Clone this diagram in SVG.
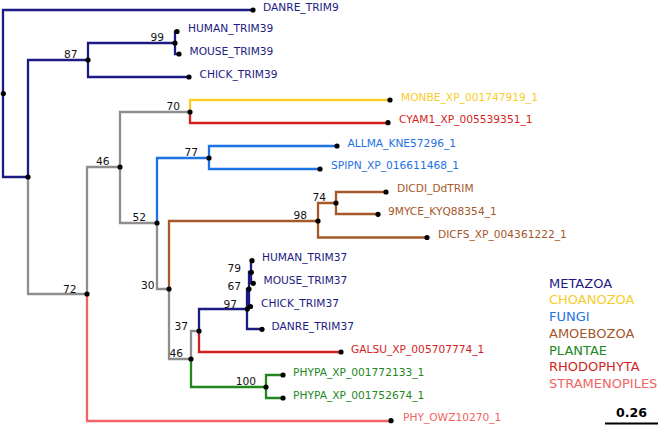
<svg xmlns="http://www.w3.org/2000/svg" width="661" height="426" viewBox="0 0 661 426">
<style>
.e{fill:none;stroke-width:2.3;stroke-linecap:square;stroke-linejoin:miter}
.nv{stroke:#1b1b82}.gy{stroke:#8e8e8e}.yl{stroke:#f8cc2a}.rd{stroke:#d41f1f}.bl{stroke:#1d72e4}.br{stroke:#a5582a}.gr{stroke:#22881e}.pk{stroke:#f26464}
.d{fill:#000}
text{font-family:"DejaVu Sans","Liberation Sans",sans-serif;font-size:10.65px}
.s{fill:#111;text-anchor:end}
.tnv{fill:#1b1b82}.tyl{fill:#f8cc2a}.trd{fill:#d41f1f}.tbl{fill:#1d72e4}.tbr{fill:#a5582a}.tgr{fill:#22881e}.tpk{fill:#f26464}
.lg{font-size:13px}
</style>
<rect width="661" height="426" fill="#fff"/>
<g id="connectors">
<path class="e nv" d="M253,10 H3 V177 H28"/>
<path class="e nv" d="M28,177 V60 H88"/>
<path class="e nv" d="M88,60 V43 H175"/>
<path class="e nv" d="M88,60 V77 H189"/>
<path class="e nv" d="M177,31.5 H175 V54 H179"/>
<path class="e gy" d="M28,177 V294 H87"/>
<path class="e gy" d="M87,294 V167 H120"/>
<path class="e gy" d="M120,167 V112 H190"/>
<path class="e gy" d="M120,167 V223 H157"/>
<path class="e gy" d="M157,223 V289 H169"/>
<path class="e gy" d="M169,289 V359 H191"/>
<path class="e gy" d="M191,359 V331 H199"/>
<path class="e pk" d="M87,294 V421 H391"/>
<path class="e yl" d="M190,112 V100 H390"/>
<path class="e rd" d="M190,112 V123 H388"/>
<path class="e rd" d="M199,331 V352 H341"/>
<path class="e bl" d="M157,223 V158 H209"/>
<path class="e bl" d="M209,158 V146 H337"/>
<path class="e bl" d="M209,158 V169 H320"/>
<path class="e br" d="M169,289 V221 H318"/>
<path class="e br" d="M318,221 V203 H336"/>
<path class="e br" d="M336,203 V192 H386"/>
<path class="e br" d="M336,203 V214 H378"/>
<path class="e br" d="M318,221 V237.5 H427"/>
<path class="e gr" d="M191,359 V387 H266"/>
<path class="e gr" d="M266,387 V375 H283"/>
<path class="e gr" d="M266,387 V398 H283"/>
<path class="e nv" d="M199,331 V309 H247"/>
<path class="e nv" d="M247,309 V289 H249"/>
<path class="e nv" d="M247,309 V329 H262"/>
<path class="e nv" d="M249,289 V272 H251"/>
<path class="e nv" d="M249,289 V306.5 H250"/>
<path class="e nv" d="M251,272 V261 H252"/>
<path class="e nv" d="M251,272 V283 H253"/>
</g>
<g id="root"><circle class="d" cx="3.3" cy="93.5" r="2.6"/></g>
<g id="nA"><circle class="d" cx="28" cy="177" r="2.6"/></g>
<g id="n87"><circle class="d" cx="88" cy="60" r="2.6"/><text class="s" x="77.5" y="58">87</text></g>
<g id="n99"><circle class="d" cx="175" cy="43" r="2.6"/><text class="s" x="164" y="41">99</text></g>
<g id="n72"><circle class="d" cx="87" cy="294" r="2.6"/><text class="s" x="76.5" y="292.5">72</text></g>
<g id="n46a"><circle class="d" cx="120" cy="167" r="2.6"/><text class="s" x="109.5" y="165">46</text></g>
<g id="n70"><circle class="d" cx="190" cy="112" r="2.6"/><text class="s" x="180" y="110">70</text></g>
<g id="n52"><circle class="d" cx="157" cy="223" r="2.6"/><text class="s" x="146" y="221">52</text></g>
<g id="n77"><circle class="d" cx="209" cy="158" r="2.6"/><text class="s" x="198" y="156">77</text></g>
<g id="n30"><circle class="d" cx="169" cy="289" r="2.6"/><text class="s" x="154.5" y="289">30</text></g>
<g id="n98"><circle class="d" cx="318" cy="221" r="2.6"/><text class="s" x="307" y="218.5">98</text></g>
<g id="n74"><circle class="d" cx="336" cy="203" r="2.6"/><text class="s" x="326" y="201">74</text></g>
<g id="n46b"><circle class="d" cx="191" cy="359" r="2.6"/><text class="s" x="183" y="357">46</text></g>
<g id="n37"><circle class="d" cx="199" cy="331" r="2.6"/><text class="s" x="188" y="330">37</text></g>
<g id="n100"><circle class="d" cx="266" cy="387" r="2.6"/><text class="s" x="256" y="385">100</text></g>
<g id="n97"><circle class="d" cx="247.3" cy="309" r="2.6"/><text class="s" x="237" y="308">97</text></g>
<g id="n67"><circle class="d" cx="249" cy="289" r="2.6"/><text class="s" x="241" y="289.5">67</text></g>
<g id="n79"><circle class="d" cx="251.3" cy="272.3" r="2.6"/><text class="s" x="241" y="272">79</text></g>
<g id="DANRE_TRIM9"><circle class="d" cx="253" cy="10" r="2.6"/><text class="tnv" x="263" y="10.8">DANRE_TRIM9</text></g>
<g id="HUMAN_TRIM39"><circle class="d" cx="177" cy="31.5" r="2.6"/><text class="tnv" x="188" y="32">HUMAN_TRIM39</text></g>
<g id="MOUSE_TRIM39"><circle class="d" cx="179" cy="54" r="2.6"/><text class="tnv" x="189.5" y="55">MOUSE_TRIM39</text></g>
<g id="CHICK_TRIM39"><circle class="d" cx="189" cy="77" r="2.6"/><text class="tnv" x="199.5" y="77.5">CHICK_TRIM39</text></g>
<g id="MONBE"><circle class="d" cx="390" cy="100" r="2.6"/><text class="tyl" x="401" y="100.5">MONBE_XP_001747919_1</text></g>
<g id="CYAM1"><circle class="d" cx="388" cy="122.7" r="2.6"/><text class="trd" x="399" y="123">CYAM1_XP_005539351_1</text></g>
<g id="ALLMA"><circle class="d" cx="337" cy="146" r="2.6"/><text class="tbl" x="347.5" y="146.5">ALLMA_KNE57296_1</text></g>
<g id="SPIPN"><circle class="d" cx="320" cy="169" r="2.6"/><text class="tbl" x="331" y="169">SPIPN_XP_016611468_1</text></g>
<g id="DICDI"><circle class="d" cx="386" cy="192" r="2.6"/><text class="tbr" x="397" y="192">DICDI_DdTRIM</text></g>
<g id="9MYCE"><circle class="d" cx="378" cy="214.3" r="2.6"/><text class="tbr" x="388" y="214.5">9MYCE_KYQ88354_1</text></g>
<g id="DICFS"><circle class="d" cx="427" cy="237.5" r="2.6"/><text class="tbr" x="438" y="238">DICFS_XP_004361222_1</text></g>
<g id="HUMAN_TRIM37"><circle class="d" cx="252" cy="260.7" r="2.6"/><text class="tnv" x="262" y="261">HUMAN_TRIM37</text></g>
<g id="MOUSE_TRIM37"><circle class="d" cx="253.3" cy="283.3" r="2.6"/><text class="tnv" x="263.5" y="284">MOUSE_TRIM37</text></g>
<g id="CHICK_TRIM37"><circle class="d" cx="250.5" cy="306.5" r="2.6"/><text class="tnv" x="261" y="306.5">CHICK_TRIM37</text></g>
<g id="DANRE_TRIM37"><circle class="d" cx="262" cy="329.3" r="2.6"/><text class="tnv" x="271.5" y="330">DANRE_TRIM37</text></g>
<g id="GALSU"><circle class="d" cx="341" cy="352" r="2.6"/><text class="trd" x="351" y="352.5">GALSU_XP_005707774_1</text></g>
<g id="PHYPA1"><circle class="d" cx="283" cy="375" r="2.6"/><text class="tgr" x="293" y="375.5">PHYPA_XP_001772133_1</text></g>
<g id="PHYPA2"><circle class="d" cx="283" cy="398" r="2.6"/><text class="tgr" x="293" y="398.5">PHYPA_XP_001752674_1</text></g>
<g id="PHY"><circle class="d" cx="391" cy="420.7" r="2.6"/><text class="tpk" x="403" y="421">PHY_OWZ10270_1</text></g>
<g id="legend">
<text class="lg tnv" x="549" y="287.7">METAZOA</text>
<text class="lg tyl" x="549" y="304.4">CHOANOZOA</text>
<text class="lg tbl" x="549" y="321.1">FUNGI</text>
<text class="lg tbr" x="549" y="337.8">AMOEBOZOA</text>
<text class="lg tgr" x="549" y="354.5">PLANTAE</text>
<text class="lg trd" x="549" y="371.2">RHODOPHYTA</text>
<text class="lg tpk" x="549" y="387.9">STRAMENOPILES</text>
</g>
<g id="scalebar">
<text x="631.5" y="416.5" style="font-size:12.6px;font-weight:bold;text-anchor:middle;fill:#000">0.26</text>
<line x1="605" y1="423.5" x2="658" y2="423.5" stroke="#000" stroke-width="2"/>
</g>
</svg>
